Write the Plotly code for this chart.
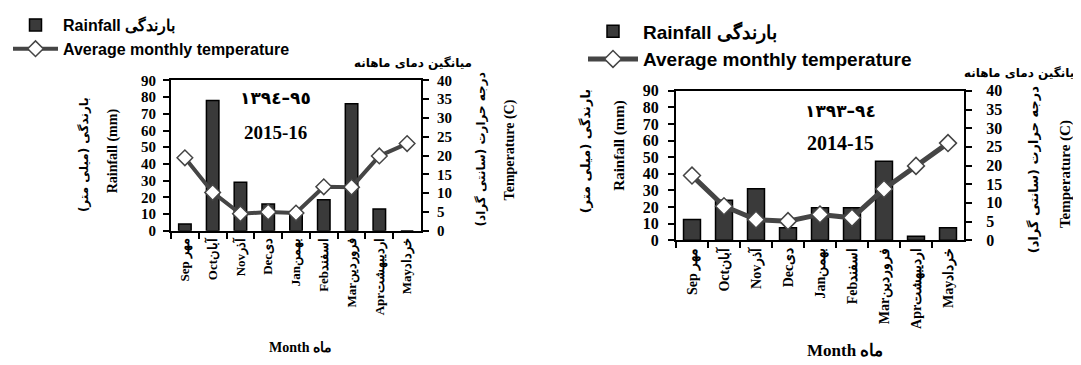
import plotly.graph_objects as go

W, H = 1081, 365

months = ["Sep مهر", "Octآبان", "Novآذر", "Decدی", "Janبهمن",
          "Febاسفند", "Marفروردین", "Aprاردیبهشت", "Mayخرداد"]

rain_1516 = [4, 78, 29, 16, 11, 18.5, 76, 13, 0]
temp_1516 = [19.4, 10.2, 4.5, 5.0, 4.7, 11.7, 11.6, 19.9, 23.2]

rain_1415 = [12.5, 24, 31, 7.5, 19.5, 19.5, 47.5, 2.3, 7.5]
temp_1415 = [17.3, 9.1, 5.5, 5.1, 6.9, 6.0, 13.7, 19.9, 26.0]

rain_ticks = list(range(0, 91, 10))
temp_ticks = list(range(0, 41, 5))

BAR = "#3a3a3a"
LINE = "#454545"
SERIF = "Liberation Serif"
SANS = "Liberation Sans"


def px(x):
    return x / W


def py(y):
    return 1 - y / H


def bold(vals):
    return [f"<b>{v}</b>" for v in vals]


fig = go.Figure()

panels = [
    dict(rain=rain_1516, temp=temp_1516, x="x", y="y", y2="y2", legend="legend",
         barw=0.45, lw=4, ms=12),
    dict(rain=rain_1415, temp=temp_1415, x="x2", y="y3", y2="y4", legend="legend2",
         barw=0.53, lw=5, ms=13),
]

for i, p in enumerate(panels):
    fig.add_trace(go.Bar(
        x=months, y=p["rain"], xaxis=p["x"], yaxis=p["y"], width=p["barw"],
        marker=dict(color=BAR, line=dict(color="black", width=1.5)),
        name="Rainfall بارندگی", legend=p["legend"], legendgroup=f"r{i}",
    ))
    fig.add_trace(go.Scatter(
        x=months, y=p["temp"], xaxis=p["x"], yaxis=p["y2"], mode="lines+markers",
        line=dict(color=LINE, width=p["lw"]),
        marker=dict(symbol="diamond", size=p["ms"], color="white",
                    line=dict(color=LINE, width=1.5)),
        name="Average monthly temperature", legend=p["legend"], legendgroup=f"t{i}",
    ))

doms = [
    dict(x=[px(163), px(413)], y=[py(224), py(65)], tf=15, xf=13, sl=4, sr=5),
    dict(x=[px(668), px(956)], y=[py(234), py(76)], tf=16, xf=14, sl=6, sr=11),
]

layout = dict(
    width=W, height=H, autosize=False,
    margin=dict(l=0, r=0, t=0, b=0),
    paper_bgcolor="white", plot_bgcolor="white",
    showlegend=True,
)

axis_names = [("xaxis", "yaxis", "yaxis2", "x", "y", "xaxis3", "yaxis5", "yaxis6"),
              ("xaxis2", "yaxis3", "yaxis4", "x2", "y3", "xaxis4", "yaxis7", "yaxis8")]

for d, (xa, ya, ya2, xr, yr, xo, yo1, yo2) in zip(doms, axis_names):
    tickfont = dict(family=SERIF, size=d["tf"], color="black")
    xfont = dict(family=SERIF, size=d["xf"], color="black")
    layout[xa] = dict(
        domain=d["x"], anchor=yr, type="category", categoryorder="array",
        categoryarray=months, range=[-0.5, 8.5],
        tickvals=months, ticktext=bold(months),
        showline=True, linecolor="black", linewidth=2, mirror=True,
        ticks="outside", tickson="boundaries", ticklen=6, tickwidth=2, tickcolor="black",
        tickangle=-90, tickfont=xfont, showgrid=False, zeroline=False,
    )
    layout[ya] = dict(
        domain=d["y"], anchor=xr, range=[0, 90],
        tickvals=rain_ticks, ticktext=bold(rain_ticks),
        showline=True, linecolor="black", linewidth=2,
        ticks="outside", ticklen=6, tickwidth=2, tickcolor="black",
        ticklabelstandoff=d["sl"],
        tickfont=tickfont, showgrid=False, zeroline=False,
    )
    layout[ya2] = dict(
        overlaying=yr, anchor=xr, side="right", range=[0, 40],
        tickvals=temp_ticks, ticktext=bold(temp_ticks),
        showline=True, linecolor="black", linewidth=2,
        ticks="outside", ticklen=6, tickwidth=2, tickcolor="black",
        ticklabelstandoff=d["sr"],
        tickfont=tickfont, showgrid=False, zeroline=False,
    )
    # inner halves of the crossing tick marks
    layout[xo] = dict(
        overlaying=xr, anchor=yr, type="linear", range=[-0.5, 8.5],
        tick0=-0.5, dtick=1, ticks="inside", ticklen=6, tickwidth=2, tickcolor="black",
        showticklabels=False, showgrid=False, zeroline=False, showline=False,
    )
    layout[yo1] = dict(
        overlaying=yr, anchor=xr, side="left", range=[0, 90], tickvals=rain_ticks,
        ticks="inside", ticklen=6, tickwidth=2, tickcolor="black",
        showticklabels=False, showgrid=False, zeroline=False, showline=False,
    )
    layout[yo2] = dict(
        overlaying=yr, anchor=xr, side="right", range=[0, 40], tickvals=temp_ticks,
        ticks="inside", ticklen=6, tickwidth=2, tickcolor="black",
        showticklabels=False, showgrid=False, zeroline=False, showline=False,
    )

layout["legend"] = dict(
    x=px(0), y=py(-12), xanchor="left", yanchor="top", bgcolor="rgba(0,0,0,0)",
    font=dict(family=SANS, size=16, color="black", weight="bold"),
    itemwidth=45, tracegroupgap=8, traceorder="normal",
)
layout["legend2"] = dict(
    x=px(575), y=py(-7), xanchor="left", yanchor="top", bgcolor="rgba(0,0,0,0)",
    font=dict(family=SANS, size=19, color="black", weight="bold"),
    itemwidth=50, tracegroupgap=5, traceorder="normal",
)

fig.update_layout(**layout)


def ann(text, x, y, size, family=SERIF, angle=0):
    fig.add_annotation(
        text=f"<b>{text}</b>", x=px(x), y=py(y), xref="paper", yref="paper",
        xanchor="center", yanchor="middle", showarrow=False, textangle=angle,
        font=dict(family=family, size=size, color="black"),
    )


# panel 1 (2015-16)
ann("۱۳۹٤–۹٥", 267, 84, 17, "DejaVu Sans")
ann("2015-16", 267, 120, 19)
ann("میانگین دمای ماهانه", 405, 47, 12, "DejaVu Sans")
ann("Rainfall (mm)", 105, 140, 14, SERIF, -90)
ann("بارندگی (میلی متر)", 76, 144, 12, "DejaVu Sans", -90)
ann("درجه حرارت (سانتی گراد)", 473, 138, 12, "DejaVu Sans", -90)
ann("Temperature (C)", 502, 139, 14, SERIF, -90)
ann("Month ماه", 292, 348, 14)

# panel 2 (2014-15)
ann("۱۳۹۳–۹٤", 832, 97, 17, "DejaVu Sans")
ann("2014-15", 832, 131, 20)
ann("میانگین دمای ماهانه", 1015, 57, 12, "DejaVu Sans")
ann("Rainfall (mm)", 612, 134, 15, SERIF, -90)
ann("بارندگی (میلی متر)", 577, 140, 13, "DejaVu Sans", -90)
ann("درجه حرارت (سانتی گراد)", 1025, 160, 13, "DejaVu Sans", -90)
ann("Temperature (C)", 1057, 164, 15, SERIF, -90)
ann("Month ماه", 837, 351, 17)

fig.write_html("out.html")
